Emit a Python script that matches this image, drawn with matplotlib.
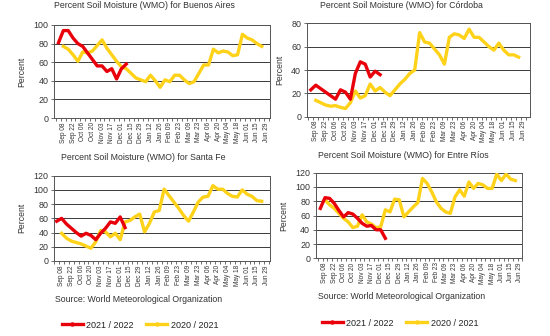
import numpy as np
import matplotlib
matplotlib.use("Agg")
import matplotlib.pyplot as plt
from matplotlib.lines import Line2D

plt.rcParams['font.family'] = ['Liberation Sans', 'DejaVu Sans']

# weekly categories (index 0 = Sep 01)
weeks = ["Sep 01", "Sep 08", "Sep 15", "Sep 22", "Sep 29", "Oct 06", "Oct 13", "Oct 20", "Oct 27",
         "Nov 03", "Nov 10", "Nov 17", "Nov 24", "Dec 01", "Dec 08", "Dec 15", "Dec 22", "Dec 29",
         "Jan 05", "Jan 12", "Jan 19", "Jan 26", "Feb 02", "Feb 09", "Feb 16", "Feb 23", "Mar 02",
         "Mar 09", "Mar 16", "Mar 23", "Mar 30", "Apr 06", "Apr 13", "Apr 20", "Apr 27", "May 04",
         "May 11", "May 18", "May 25", "Jun 01", "Jun 08", "Jun 15", "Jun 22", "Jun 29"]
tick_labels = weeks[1::2]

# series 2021/2022 start at Sep 01, series 2020/2021 start at Sep 08
ba_2122 = [81, 94, 94, 86, 80, 77, 70, 63, 56, 56, 50, 53, 42, 53, 58]
ba_2021 = [77, 74, 68, 61, 71, 70, 72, 78, 84, 75, 68, 61, 55, 53, 48, 43, 41, 39, 46, 40,
           33, 41, 39, 46, 46, 41, 37, 39, 48, 57, 57, 74, 70, 72, 71, 67, 68, 90, 86, 84, 80, 77]

co_2122 = [23, 27, 24, 21, 18, 15, 23, 21, 15, 37, 47, 45, 34, 39, 36]
co_2021 = [14, 12, 10, 9, 9.5, 8, 7, 12, 22, 16, 18, 28, 22, 25, 21, 18, 23, 28, 32, 37,
           40, 72, 64, 63, 58, 53, 45, 68, 71, 70, 67, 75, 68, 68, 64, 60, 57, 63, 57, 53, 53, 51]

sf_2122 = [56, 60, 52, 46, 40, 35, 39, 36, 30, 39, 46, 55, 53, 62, 47]
sf_2021 = [39, 32, 28, 26, 24, 21, 18, 27, 43, 41, 34, 39, 30, 55, 57, 62, 66, 41, 53, 69,
           71, 101, 92, 83, 74, 64, 56, 69, 83, 90, 91, 106, 101, 101, 95, 91, 90, 100, 94, 91, 85, 84]

er_2122 = [70, 85, 84, 77, 67, 58, 64, 62, 56, 49, 45, 46, 40, 40, 28]
er_2021 = [82, 75, 70, 63, 56, 51, 43, 45, 61, 51, 48, 43, 44, 68, 65, 83, 82, 58, 65, 72,
           78, 112, 105, 93, 79, 70, 65, 63, 86, 96, 87, 107, 98, 105, 103, 98, 98, 118, 109, 118, 111, 109]

RED = '#E8000B'
YEL = '#FFD21A'
W, H = 550, 336

fig = plt.figure(figsize=(W / 100, H / 100), dpi=100)


def px_axes(l, r, t, b):
    return fig.add_axes([l / W, 1 - b / H, (r - l) / W, (b - t) / H])


def draw(ax, red, yel, ymax, xlim):
    xr = np.arange(len(red)) + 0
    xy = np.arange(len(yel)) + 1
    ax.plot(xy, yel, color=YEL, lw=2.4, solid_joinstyle='round', zorder=3)
    ax.plot(xr, red, color=RED, lw=2.4, solid_joinstyle='round', zorder=4)
    ax.set_ylim(0, ymax)
    ax.set_yticks(np.arange(0, ymax + 1, 20))
    ax.yaxis.grid(True, color='#3a3a3a', lw=0.7)
    ax.set_axisbelow(True)
    ax.set_xlim(*xlim)
    ax.set_xticks(np.arange(1, len(weeks), 2))
    ax.set_xticklabels(tick_labels, rotation=90, fontsize=4.7, color='#333333')
    ax.set_xticks(np.arange(-0.5, len(weeks), 1), minor=True)
    ax.tick_params(axis='x', which='major', length=0, pad=3)
    ax.tick_params(axis='x', which='minor', length=2.5, width=0.6, color='#555555')
    ax.tick_params(axis='y', labelsize=6.4, length=2.5, width=0.6, color='#555555',
                   labelcolor='#333333', pad=1.5)
    for s in ax.spines.values():
        s.set_color('#555555')
        s.set_linewidth(0.7)
    ax.set_ylabel('Percent', fontsize=6.2, color='#333333')


ax1 = px_axes(54.3, 270, 25, 118)
draw(ax1, ba_2122, ba_2021, 100, (-0.87, 43.7))
ax2 = px_axes(306.7, 530, 23.3, 116.7)
draw(ax2, co_2122, co_2021, 80, (-0.83, 44.3))
ax3 = px_axes(54.3, 270, 175.7, 261)
draw(ax3, sf_2122, sf_2021, 120, (-0.5, 43.7))
ax4 = px_axes(315.7, 522.3, 172.7, 258.3)
draw(ax4, er_2122, er_2021, 120, (-1.0, 43.1))

ax1.yaxis.set_label_coords(-0.131, 0.5)
ax3.yaxis.set_label_coords(-0.131, 0.5)
ax2.yaxis.set_label_coords(-0.10, 0.5)
ax4.yaxis.set_label_coords(-0.134, 0.5)

tkw = dict(fontsize=6.3, color='#333333', ha='center', va='center')
fig.text(144 / W, 1 - 6 / H, 'Percent Soil Moisture (WMO) for Buenos Aires', **tkw)
fig.text(401 / W, 1 - 5 / H, 'Percent Soil Moisture (WMO) for Córdoba', **tkw)
fig.text(143.5 / W, 1 - 157 / H, 'Percent Soil Moisture (WMO) for Santa Fe', **tkw)
fig.text(403.5 / W, 1 - 156 / H, 'Percent Soil Moisture (WMO) for Entre Ríos', **tkw)

skw = dict(fontsize=6.3, color='#333333', ha='left', va='center')
fig.text(55 / W, 1 - 299 / H, 'Source: World Meteorological Organization', **skw)
fig.text(317.7 / W, 1 - 296.7 / H, 'Source: World Meteorological Organization', **skw)

handles = [Line2D([], [], color=RED, lw=2.4, marker='o', ms=2.2),
           Line2D([], [], color=YEL, lw=2.4, marker='o', ms=2.2)]
labels = ['2021 / 2022', '2020 / 2021']
for cx, cy in [(140, 325), (400, 323)]:
    fig.legend(handles, labels, loc='center', bbox_to_anchor=(cx / W, 1 - cy / H), ncol=2,
               frameon=False, fontsize=6.5, handlelength=2.3, handletextpad=0.4,
               columnspacing=1.4, labelcolor='#222222')

fig.savefig('out.png', dpi=100)
